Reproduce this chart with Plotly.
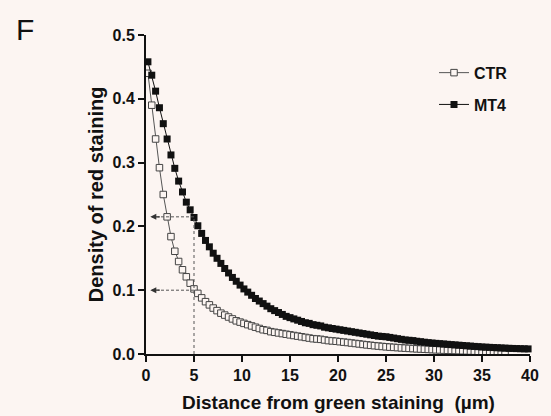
import plotly.graph_objects as go

# ---------------- data ----------------
distance_um = [
    0.2, 0.6, 1.0, 1.4, 1.8, 2.2, 2.6, 3.0, 3.4, 3.8,
    4.2, 4.6, 5.0, 5.4, 5.8, 6.2, 6.6, 7.0, 7.4, 7.8,
    8.2, 8.6, 9.0, 9.4, 9.8, 10.2, 10.6, 11.0, 11.4, 11.8,
    12.2, 12.6, 13.0, 13.4, 13.8, 14.2, 14.6, 15.0, 15.4, 15.8,
    16.2, 16.6, 17.0, 17.4, 17.8, 18.2, 18.6, 19.0, 19.4, 19.8,
    20.2, 20.6, 21.0, 21.4, 21.8, 22.2, 22.6, 23.0, 23.4, 23.8,
    24.2, 24.6, 25.0, 25.4, 25.8, 26.2, 26.6, 27.0, 27.4, 27.8,
    28.2, 28.6, 29.0, 29.4, 29.8, 30.2, 30.6, 31.0, 31.4, 31.8,
    32.2, 32.6, 33.0, 33.4, 33.8, 34.2, 34.6, 35.0, 35.4, 35.8,
    36.2, 36.6, 37.0, 37.4, 37.8, 38.2, 38.6, 39.0, 39.4, 39.8,
]

ctr_density = [
    0.440, 0.390, 0.337, 0.292, 0.250, 0.215, 0.184, 0.161, 0.145, 0.132,
    0.121, 0.111, 0.102, 0.095, 0.088, 0.082, 0.077, 0.072, 0.068, 0.064,
    0.061, 0.058, 0.055, 0.052, 0.050, 0.048, 0.046, 0.044, 0.042, 0.040,
    0.038, 0.037, 0.035, 0.034, 0.033, 0.032, 0.031, 0.030, 0.029, 0.028,
    0.027, 0.026, 0.025, 0.024, 0.0235, 0.023, 0.022, 0.021, 0.0205, 0.020,
    0.0193, 0.0186, 0.018, 0.0172, 0.0165, 0.0158, 0.015, 0.0143, 0.0136, 0.013,
    0.0124, 0.0118, 0.0113, 0.0108, 0.0104, 0.0100, 0.0096, 0.0092, 0.0088, 0.0085,
    0.0081, 0.0078, 0.0075, 0.0072, 0.0069, 0.0066, 0.0064, 0.0061, 0.0059, 0.0057,
    0.0055, 0.0053, 0.0051, 0.0049, 0.0047, 0.0045, 0.0043, 0.0041, 0.0039, 0.0037,
    0.0035, 0.0033, 0.0031, 0.0029,
]

mt4_density = [
    0.458, 0.437, 0.412, 0.386, 0.361, 0.337, 0.312, 0.291, 0.271, 0.254,
    0.238, 0.226, 0.214, 0.201, 0.189, 0.178, 0.168, 0.158, 0.150, 0.142,
    0.134, 0.127, 0.120, 0.114, 0.108, 0.102, 0.097, 0.092, 0.087, 0.083,
    0.079, 0.075, 0.071, 0.068, 0.065, 0.062, 0.059, 0.057, 0.055, 0.053,
    0.051, 0.049, 0.048, 0.046, 0.045, 0.044, 0.042, 0.041, 0.040, 0.039,
    0.038, 0.037, 0.036, 0.035, 0.034, 0.033, 0.032, 0.031, 0.030, 0.029,
    0.028, 0.0275, 0.027, 0.026, 0.025, 0.024, 0.023, 0.022, 0.0215, 0.021,
    0.020, 0.0193, 0.0185, 0.0178, 0.0172, 0.0167, 0.0162, 0.0157, 0.0152, 0.0147,
    0.0142, 0.0138, 0.0133, 0.0128, 0.0124, 0.0119, 0.0115, 0.0110, 0.0107, 0.0104,
    0.0101, 0.0098, 0.0095, 0.0092, 0.0089, 0.0087, 0.0085, 0.0083, 0.0081, 0.0080,
]

series_names = ["CTR", "MT4"]
x_ticks = [0, 5, 10, 15, 20, 25, 30, 35, 40]
y_ticks = [0.0, 0.1, 0.2, 0.3, 0.4, 0.5]

# reference guide lines (distance 5 um -> density levels)
guide_distance = 5
guide_levels = [0.215, 0.10]

# ---------------- styling ----------------
BG = "#FCF5F2"
INK = "#111111"
FONT = "Liberation Sans, Arial, sans-serif"

fig = go.Figure()

fig.add_trace(go.Scatter(
    x=distance_um[:len(ctr_density)], y=ctr_density, name=series_names[0],
    mode="lines+markers",
    line=dict(color="#555555", width=1),
    marker=dict(symbol="square", size=6.5, color=BG,
                line=dict(color="#444444", width=1)),
    cliponaxis=False, legendgroup="a",
))
fig.add_trace(go.Scatter(
    x=distance_um[:len(mt4_density)], y=mt4_density, name=series_names[1],
    mode="lines+markers",
    line=dict(color=INK, width=1),
    marker=dict(symbol="square", size=7, color=INK,
                line=dict(color=INK, width=0)),
    cliponaxis=False, legendgroup="b",
))

# guide lines
fig.add_shape(type="line", xref="x", yref="y",
              x0=guide_distance, x1=guide_distance, y0=0, y1=guide_levels[0],
              line=dict(color="#555555", width=1, dash="dot"))
for lvl in guide_levels:
    fig.add_shape(type="line", xref="x", yref="y",
                  x0=guide_distance, x1=1.2, y0=lvl, y1=lvl,
                  line=dict(color="#555555", width=1, dash="3px,2px"))
    fig.add_annotation(x=0.45, y=lvl, ax=1.6, ay=lvl, xref="x", yref="y",
                       axref="x", ayref="y", text="", showarrow=True,
                       arrowhead=2, arrowsize=1, arrowwidth=1.2,
                       arrowcolor="#333333")

# panel letter
fig.add_annotation(text="F", xref="paper", yref="paper",
                   x=-0.345, y=1.075, xanchor="left", yanchor="top",
                   showarrow=False, font=dict(family=FONT, size=30, color=INK))
# axis titles
fig.add_annotation(text="Density of red staining", xref="paper", yref="paper",
                   x=-0.131, y=0.5, xanchor="center", yanchor="middle",
                   textangle=-90, showarrow=False,
                   font=dict(family=FONT, size=20, color=INK, weight="bold"))
fig.add_annotation(text="Distance from green staining \u00a0(µm)", xref="paper",
                   yref="paper", x=0.5, y=-0.152, xanchor="center",
                   yanchor="middle", showarrow=False,
                   font=dict(family=FONT, size=19, color=INK, weight="bold"))

axis_common = dict(
    showline=True, linewidth=2, linecolor=INK, ticks="outside", ticklen=6,
    tickwidth=2, tickcolor=INK, showgrid=False, zeroline=False,
    tickfont=dict(family=FONT, size=16, color=INK, weight="bold"),
)
fig.update_xaxes(range=[0, 40], tickvals=x_ticks, **axis_common)
fig.update_yaxes(range=[0, 0.5], tickvals=y_ticks, tickformat=".1f",
                 **axis_common)

fig.update_layout(
    width=551, height=416,
    margin=dict(l=146, r=16, t=35, b=62),
    paper_bgcolor=BG, plot_bgcolor=BG,
    font=dict(family=FONT, color=INK),
    legend=dict(x=0.75, y=0.935, xanchor="left", yanchor="top",
                bgcolor="rgba(0,0,0,0)", tracegroupgap=8,
                traceorder="grouped",
                font=dict(family=FONT, size=16, color=INK, weight="bold")),
)

fig.write_html(
    "out.html",
    config={"displayModeBar": False},
    post_script="document.body.style.margin='0';"
                "document.body.style.background='" + BG + "';",
)
